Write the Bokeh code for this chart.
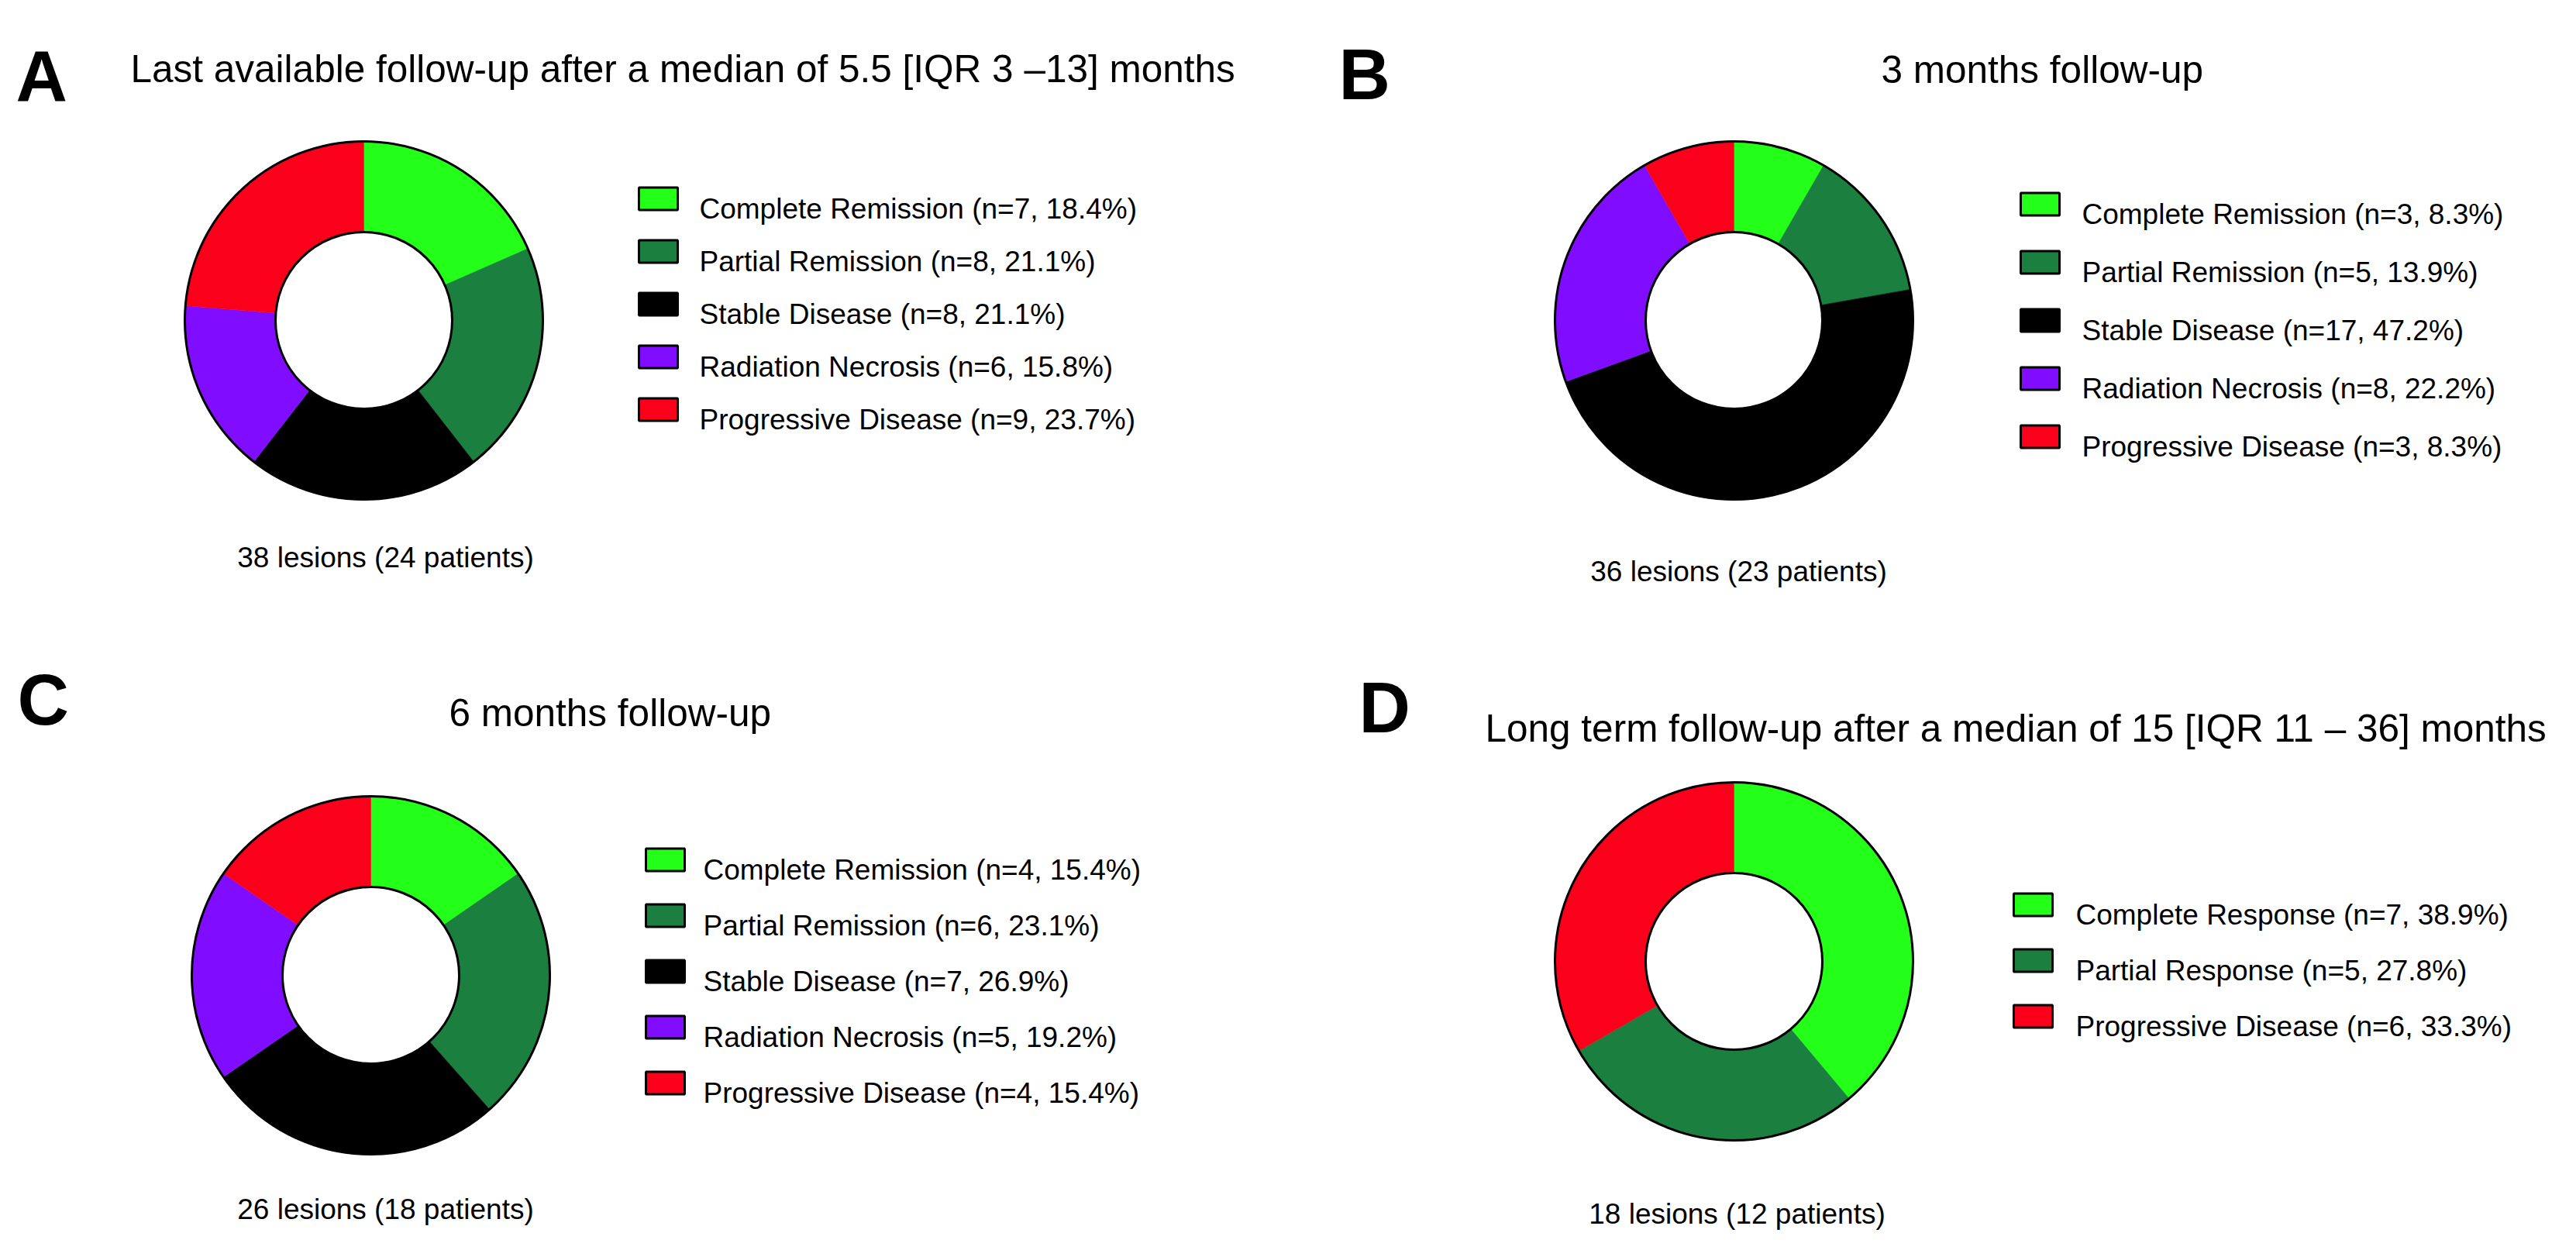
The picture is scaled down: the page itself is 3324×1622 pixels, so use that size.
import math
from bokeh.plotting import figure
from bokeh.models import Range1d, ColumnDataSource
from bokeh.core.properties import value
from bokeh.embed import file_html
from bokeh.resources import INLINE

# ---------------- data ----------------
panel_letters = ["A", "B", "C", "D"]
panel_titles = [
    "Last available follow-up after a median of 5.5 [IQR 3 \u201313] months",
    "3 months follow-up",
    "6 months follow-up",
    "Long term follow-up after a median of 15 [IQR 11 \u2013 36] months",
]
panel_notes = [
    "38 lesions (24 patients)",
    "36 lesions (23 patients)",
    "26 lesions (18 patients)",
    "18 lesions (12 patients)",
]

cats_5 = ["Complete Remission", "Partial Remission", "Stable Disease",
          "Radiation Necrosis", "Progressive Disease"]
cats_d = ["Complete Response", "Partial Response", "Progressive Disease"]

counts_a = [7, 8, 8, 6, 9]
pcts_a = [18.4, 21.1, 21.1, 15.8, 23.7]
counts_b = [3, 5, 17, 8, 3]
pcts_b = [8.3, 13.9, 47.2, 22.2, 8.3]
counts_c = [4, 6, 7, 5, 4]
pcts_c = [15.4, 23.1, 26.9, 19.2, 15.4]
counts_d = [7, 5, 6]
pcts_d = [38.9, 27.8, 33.3]

GREEN = "#24FF1A"
DKGREEN = "#1B803F"
BLACK = "#000000"
PURPLE = "#800DFF"
RED = "#FA001B"
colors_5 = [GREEN, DKGREEN, BLACK, PURPLE, RED]
colors_d = [GREEN, DKGREEN, RED]

# ---------------- layout (screen pixels) ----------------
W, H = 3308, 1606
FONT = "Liberation Sans"

p = figure(width=W, height=H, output_backend="svg", toolbar_location=None,
           x_range=Range1d(8, 8 + W), y_range=Range1d(1622 - 8 - H, 1622 - 8),
           x_axis_location=None, y_axis_location=None, min_border=0)
p.grid.visible = False
p.outline_line_color = None
p.background_fill_color = "white"
p.border_fill_color = "white"


def Y(sy):
    return 1622 - sy


layout = [
    dict(letter=(31, 105), title=(176, 96), donut=(477, 421), sqx=857, rows=(264, 68),
         textx=910, note=(505, 727)),
    dict(letter=(1738, 103), title=(2435, 97), donut=(2245, 421), sqx=2640, rows=(271, 75),
         textx=2694, note=(2251, 745)),
    dict(letter=(33, 910), title=(587, 927), donut=(486, 1266), sqx=866, rows=(1117, 72),
         textx=915, note=(505, 1568)),
    dict(letter=(1764, 920), title=(1924, 947), donut=(2245, 1248), sqx=2631, rows=(1175, 72),
         textx=2686, note=(2249, 1574)),
]

series = [
    (cats_5, counts_a, pcts_a, colors_5),
    (cats_5, counts_b, pcts_b, colors_5),
    (cats_5, counts_c, pcts_c, colors_5),
    (cats_d, counts_d, pcts_d, colors_d),
]

R_OUT, R_IN = 231, 114

for i, (lay, (cats, counts, pcts, cols)) in enumerate(zip(layout, series)):
    cx, cy = lay["donut"]
    total = sum(counts)
    starts, ends = [], []
    cum = 0
    for c in counts:
        starts.append(math.pi / 2 - 2 * math.pi * cum / total)
        cum += c
        ends.append(math.pi / 2 - 2 * math.pi * cum / total)
    src = ColumnDataSource(dict(x=[cx] * len(counts), y=[Y(cy)] * len(counts),
                                start=starts, end=ends, color=cols))
    p.annular_wedge(x="x", y="y", inner_radius=R_IN, outer_radius=R_OUT,
                    start_angle="start", end_angle="end", direction="clock",
                    fill_color="color", line_color="color", line_width=0.5, source=src)
    p.circle(x=[cx], y=[Y(cy)], radius=R_OUT, fill_color=None, line_color="black", line_width=3)
    p.circle(x=[cx], y=[Y(cy)], radius=R_IN, fill_color=None, line_color="black", line_width=3)

    # legend
    r0, dr = lay["rows"]
    rows = [r0 + k * dr for k in range(len(cats))]
    labels = [f"{c} (n={n}, {pc:.1f}%)" for c, n, pc in zip(cats, counts, pcts)]
    p.rect(x=[lay["sqx"]] * len(cats), y=[Y(r) for r in rows], width=50, height=29,
           fill_color=cols, line_color="black", line_width=3)
    p.text(x=[lay["textx"]] * len(cats), y=[Y(r + 13) for r in rows], text=labels,
           text_font=value(FONT), text_font_size="37px", text_color="black",
           text_align="left", text_baseline="alphabetic")

    # letter
    lx, ly = lay["letter"]
    p.text(x=[lx - 3], y=[Y(ly)], text=[panel_letters[i]], text_font=value(FONT),
           text_font_style="bold", text_font_size="92px", text_color="black",
           text_align="left", text_baseline="alphabetic")
    # title
    tx, ty = lay["title"]
    p.text(x=[tx], y=[Y(ty)], text=[panel_titles[i]], text_font=value(FONT),
           text_font_size="49.5px", text_color="black",
           text_align="left", text_baseline="alphabetic")
    # note
    nx, ny = lay["note"]
    p.text(x=[nx], y=[Y(ny)], text=[panel_notes[i]], text_font=value(FONT),
           text_font_size="37px", text_color="black",
           text_align="center", text_baseline="alphabetic")

open("out.html", "w").write(file_html(p, INLINE))
